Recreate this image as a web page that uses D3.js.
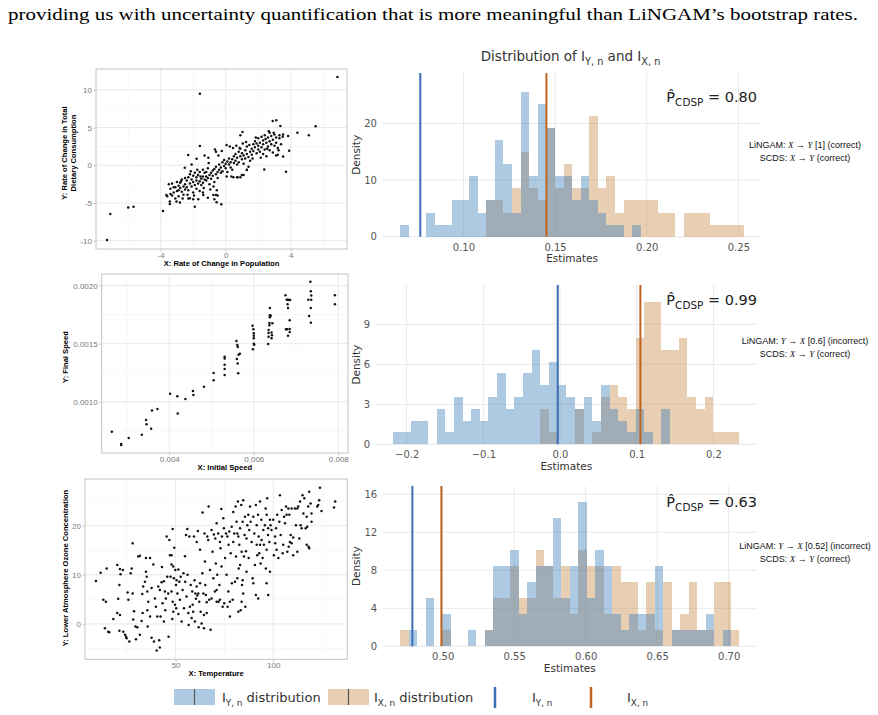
<!DOCTYPE html>
<html>
<head>
<meta charset="utf-8">
<script src="https://cdn.jsdelivr.net/npm/d3@7"></script>
<style>
  body { margin: 0; background: #fff; }
  svg { display: block; }
</style>
</head>
<body>
<div id="fig"></div>
<script>
// ---------------- data ----------------
const introLine = 'providing us with uncertainty quantification that is more meaningful than LiNGAM\u2019s bootstrap rates.';

// scatter 1: population vs dietary consumption
const dietPoints = [
  [6.87,11.7],[-1.59,9.5],[-7.3,-9.9],[-7.1,-6.45],[-6.0,-5.6],[-5.67,-5.5],[-3.86,-6.05],[-1.9,-5.5],[-0.27,-5.15],[-0.56,-4.9],
  [5.53,5.17],[5.11,3.97],[4.41,4.33],[3.9,1.94],[3.71,-0.84],[2.37,-0.57],[2.89,5.87],[3.11,5.96],[3.36,5.21],[1.03,4.42],
  [-2.31,1.37],[-1.59,2.56],[-1.79,0.88],[-2.52,-0.31],[-1.07,1.0],[-0.66,2.1],[-3.65,-3.93],[-3.44,-5.12],[-3.44,-4.81],[-3.03,-4.81],
  [-2.82,-4.94],[-2.21,-4.37],[-2.0,-4.5],[-1.69,-4.5],[-1.38,-3.93],[-0.76,-3.93],[-0.6,-3.93],[0.06,-1.5],[0.47,-1.59],[0.72,-1.59],
  [0.99,-1.28],[1.3,-0.62],[3.53,1.15],[3.84,3.89],[3.53,4.1],
  [-3.5,-2.5],[-3.4,-3.1],[-3.3,-2.4],[-3.2,-3.6],[-3.1,-2.9],[-3.0,-2.2],[-3.0,-3.4],[-2.9,-2.7],[-2.9,-4.1],[-2.8,-3.0],
  [-2.8,-2.3],[-2.7,-3.5],[-2.7,-1.9],[-2.6,-2.8],[-2.6,-3.9],[-2.5,-2.5],[-2.5,-1.7],[-2.5,-3.2],[-3.6,-4.1],[-3.4,-3.8],
  [-3.2,-2.9],[-3.1,-4.4],[-2.9,-3.3],[-2.75,-2.1],[-2.65,-4.4],
  [-2.4,-2.0],[-2.4,-2.9],[-2.3,-1.6],[-2.3,-3.3],[-2.2,-2.4],[-2.2,-1.2],[-2.1,-2.8],[-2.1,-1.9],[-2.0,-3.6],[-2.0,-2.2],
  [-2.0,-1.4],[-1.9,-2.6],[-1.9,-1.0],[-1.8,-2.0],[-1.8,-3.1],[-1.8,-1.6],[-1.7,-2.4],[-1.7,-1.3],[-1.6,-2.1],[-1.6,-3.4],
  [-1.6,-0.9],[-1.5,-1.8],[-1.5,-2.6],[-2.35,-3.9],[-2.15,-0.8],[-1.95,-4.0],[-1.75,-0.6],[-1.55,-1.5],
  [-1.4,-1.5],[-1.4,-2.3],[-1.4,-0.6],[-1.3,-1.9],[-1.3,-1.0],[-1.2,-2.0],[-1.2,-0.9],[-1.2,-1.5],[-1.1,-1.7],[-1.1,-0.4],
  [-1.0,-1.3],[-1.0,-2.5],[-0.9,-1.0],[-0.9,-1.8],[-0.8,-0.7],[-0.8,-1.4],[-0.7,-2.2],[-0.7,-0.5],[-0.6,-1.2],[-0.6,-0.2],
  [-0.5,-0.9],[-0.5,-1.7],[-1.35,-3.0],[-0.95,-3.2],[-0.75,-2.8],[-0.55,-3.3],[-1.05,0.3],
  [-0.4,-0.6],[-0.4,0.1],[-0.3,-1.0],[-0.3,-0.3],[-0.2,0.4],[-0.2,-0.8],[-0.1,-0.1],[-0.1,0.7],[0.0,-0.4],[0.0,0.2],
  [0.1,0.5],[0.1,-0.9],[0.2,0.1],[0.2,0.9],[0.3,-0.3],[0.3,0.4],[0.4,0.8],[0.4,-0.6],[0.5,0.3],[0.5,1.2],
  [-0.45,1.3],[-0.25,1.9],[0.05,2.7],[0.25,2.5],[0.45,2.3],[0.35,-1.5],
  [0.6,0.6],[0.6,1.5],[0.7,0.1],[0.7,1.0],[0.8,1.8],[0.8,0.4],[0.9,1.2],[0.9,2.2],[1.0,0.8],[1.0,1.6],
  [1.1,0.2],[1.1,1.3],[1.2,2.0],[1.2,0.9],[1.3,1.5],[1.3,2.5],[1.4,1.1],[1.4,-0.2],[1.5,1.8],[1.5,0.6],
  [0.65,2.6],[0.85,2.3],[1.05,2.9],[1.25,3.1],[1.45,2.7],
  [1.6,2.2],[1.6,1.4],[1.7,2.8],[1.7,1.9],[1.8,3.2],[1.8,2.4],[1.9,1.6],[1.9,2.9],[2.0,2.1],[2.0,3.6],
  [2.0,2.6],[2.1,1.8],[2.1,3.0],[2.2,2.4],[2.2,3.8],[2.3,1.5],[2.3,2.8],[2.3,3.3],[2.4,2.1],[2.4,4.0],
  [2.5,3.0],[2.5,1.2],[1.65,0.9],[1.85,3.7],[2.15,1.0],[2.45,3.5],
  [2.6,2.5],[2.6,3.7],[2.7,2.0],[2.7,3.2],[2.7,4.3],[2.8,2.8],[2.8,3.9],[2.9,1.7],[2.9,3.4],[3.0,2.6],
  [3.0,4.1],[3.1,3.0],[3.1,3.7],[3.2,1.4],[3.2,2.3],[3.3,3.6],[3.3,4.0],[3.4,2.8],[3.5,3.8],[3.1,1.3],
  [2.65,4.5],[2.95,4.3],[3.25,2.0],[2.55,2.2],
  [-3.3,-4.0],[-2.3,-4.4],[-1.1,-4.3],[-0.5,-4.0],[-0.7,-4.5],[-1.4,-3.6],[0.7,-1.6],[0.9,-1.6],[1.1,-1.3],[1.3,-0.6],
  [-2.1,0.1],[-1.3,1.3],[-0.6,1.8],[0.9,4.0]
];

// scatter 2: initial speed vs final speed
const speedPoints = [
  [0.00264,0.000741],[0.00286,0.000635],[0.00286,0.000626],[0.00304,0.000687],[0.00335,0.000716],[0.00345,0.000842],
  [0.00346,0.000805],[0.00357,0.000767],[0.00359,0.000925],[0.00372,0.000937],[0.00402,0.001069],[0.00419,0.001046],
  [0.00420,0.000899],[0.00438,0.001023],[0.00456,0.001092],[0.00457,0.001057],[0.00482,0.001129],[0.00505,0.001247],
  [0.00505,0.001184],[0.00531,0.001388],[0.00531,0.001371],[0.00531,0.001319],[0.00531,0.001282],[0.00531,0.001230],
  [0.00559,0.001523],[0.00561,0.001489],[0.00562,0.001471],[0.00564,0.001405],[0.00560,0.001368],[0.00562,0.001330],
  [0.00563,0.001244],[0.00567,0.001414],[0.00597,0.001655],[0.00599,0.001624],[0.00600,0.001589],[0.00600,0.001569],
  [0.00600,0.001546],[0.00600,0.001500],[0.00601,0.001491],[0.00598,0.001451],[0.00634,0.001497],[0.00635,0.001560],
  [0.00635,0.001592],[0.00635,0.001618],[0.00637,0.001658],[0.00637,0.001678],[0.00638,0.001727],[0.00638,0.001744],
  [0.00638,0.001807],[0.00640,0.001741],[0.00642,0.001595],[0.00643,0.001572],[0.00642,0.001546],[0.00644,0.001675],
  [0.00675,0.001917],[0.00678,0.001879],[0.00681,0.001879],[0.00682,0.001876],[0.00686,0.001876],[0.00680,0.001839],
  [0.00681,0.001807],[0.00676,0.001624],[0.00679,0.001624],[0.00681,0.001569],[0.00685,0.001601],[0.00685,0.001626],
  [0.00685,0.001701],[0.00729,0.001879],[0.00734,0.002034],[0.00735,0.001951],[0.00736,0.001914],[0.00736,0.001879],
  [0.00735,0.001807],[0.00731,0.001739],[0.00735,0.001681],[0.00792,0.001917],[0.00792,0.001839]
];

// scatter 3: temperature vs ozone
const ozonePoints = [
  [9.2,8.75],[11.6,10.4],[14.7,11.3],[13.0,4.9],[14.3,4.5],[13.8,-0.9],[15.5,-1.6],[16.0,-1.7],[18.1,1.0],[20.1,12.0],
  [21.5,11.2],[21.8,10.1],[21.2,7.9],[20.6,5.1],[20.1,2.2],[21.5,1.8],[21.2,-1.4],[23.0,11.0],[23.2,-1.6],[24.1,-2.2],
  [24.6,-2.6],[24.9,-2.9],[25.4,6.4],[25.8,4.9],[26.3,-3.6],[27.0,10.3],[27.5,11.3],[28.0,16.4],[28.0,6.2],[28.3,0.9],
  [28.7,2.6],[29.4,-0.5],[29.7,-3.1],[30.4,-0.7],[30.9,13.7],[31.7,13.9],[31.7,-2.2],[32.6,0.6],[32.9,6.1],[33.1,2.2],
  [33.4,7.6],[34.3,8.6],[34.8,13.4],[34.8,10.6],[35.2,9.6],[35.5,6.6],[36.0,4.5],[35.5,2.8],[35.7,-0.5],[36.9,13.4],
  [36.9,1.5],[37.7,7.3],[37.7,-2.8],[38.6,12.1],[38.9,-3.6],[39.4,5.2],[39.9,3.5],[40.3,-5.4],[40.6,1.5],[41.1,7.6],
  [41.6,-3.3],[41.9,-4.8],[41.9,6.9],[42.3,1.5],[42.8,8.5],[43.0,11.6],[43.3,4.2],[44.0,8.7],[44.0,0.5],[44.5,6.6],
  [44.7,2.8],[45.0,5.2],[45.4,17.8],[45.7,9.6],[46.2,6.2],[46.4,-2.6],[46.8,17.1],[47.1,14.0],[47.4,9.6],[47.9,12.1],
  [47.9,14.0],[47.9,6.6],[48.3,1.0],[48.5,19.3],[48.5,4.5],[48.8,11.7],[48.8,2.5],[49.1,9.3],[49.3,15.5],[49.7,3.9],
  [49.8,11.0],[50.2,7.9],[50.3,3.2],[50.5,8.9],[50.9,6.2],[51.4,11.1],[51.4,2.0],[51.9,8.6],[52.2,4.9],[52.6,9.6],
  [53.1,0.5],[53.6,6.9],[54.0,10.3],[54.3,3.2],[54.8,13.8],[54.9,8.6],[55.3,18.1],[55.6,5.6],[56.0,19.3],[56.1,10.0],
  [56.5,2.2],[56.7,-0.2],[57.0,17.8],[57.3,3.5],[57.7,7.9],[58.2,1.2],[58.5,6.6],[58.7,3.9],[59.0,2.5],[59.4,17.8],
  [59.7,8.9],[59.9,0.5],[60.1,6.2],[60.4,5.1],[60.8,16.7],[60.8,7.6],[61.1,5.8],[61.4,18.9],[61.6,6.2],[61.8,-0.7],
  [62.1,4.5],[62.5,15.1],[62.5,8.3],[62.8,2.5],[63.3,0.1],[63.7,10.3],[63.8,22.7],[64.2,6.2],[64.5,-0.9],[64.5,1.8],
  [64.8,18.4],[65.0,12.7],[65.2,7.9],[65.5,5.9],[65.9,4.4],[65.9,2.2],[66.2,17.8],[66.7,17.1],[66.9,23.9],[67.2,4.9],
  [67.6,11.0],[67.9,-1.2],[68.4,19.1],[68.4,5.2],[68.9,14.7],[69.3,9.3],[69.6,18.2],[70.1,6.6],[70.3,17.4],[70.6,12.3],
  [71.0,4.5],[71.0,20.5],[71.3,10.0],[71.8,18.4],[72.0,4.5],[72.4,7.9],[72.7,16.7],[73.0,15.4],[73.4,23.4],[73.5,11.7],
  [73.7,17.8],[74.1,3.5],[74.4,21.5],[74.7,19.5],[74.9,4.2],[75.3,13.4],[75.8,18.4],[76.1,10.0],[76.5,17.8],[76.6,3.5],
  [77.0,6.6],[77.1,16.1],[77.5,18.8],[77.8,4.5],[78.2,14.4],[78.7,19.8],[78.8,8.3],[79.2,4.9],[79.5,16.7],[79.5,22.8],
  [80.0,18.4],[80.4,8.6],[80.7,23.9],[80.9,13.7],[81.2,20.8],[81.6,18.4],[81.6,9.3],[81.9,24.9],[82.1,17.8],[82.3,11.3],
  [82.6,16.1],[83.0,19.5],[83.0,12.0],[83.3,2.8],[83.6,24.2],[83.8,14.7],[84.0,7.9],[84.3,8.9],[84.3,20.8],[84.6,6.2],
  [84.6,25.2],[85.0,13.7],[85.3,18.1],[85.5,21.8],[85.7,3.5],[86.0,14.8],[86.3,17.4],[86.3,10.6],[86.7,20.1],[87.2,22.2],
  [87.4,13.4],[87.7,19.1],[88.1,23.9],[88.4,20.8],[88.9,16.7],[89.4,9.3],[89.8,21.8],[90.3,18.4],[90.6,12.0],[91.1,24.2],
  [91.5,20.1],[91.5,16.1],[91.8,14.0],[92.2,22.2],[92.3,5.2],[92.5,17.8],[92.8,14.4],[93.2,24.9],[93.2,16.1],[93.5,12.3],
  [93.9,21.2],[94.0,17.1],[94.5,13.4],[94.9,19.1],[95.2,16.1],[95.7,20.1],[96.1,23.5],[96.2,11.3],[96.6,22.2],[96.6,15.1],
  [96.9,25.6],[97.3,18.1],[97.4,5.9],[97.4,19.5],[98.0,16.7],[98.3,21.2],[98.3,10.6],[98.6,20.1],[99.1,19.1],[100.0,21.2],
  [100.3,14.0],[100.9,17.8],[101.0,16.4],[101.4,19.5],[101.7,15.1],[102.0,22.2],[102.6,13.4],[103.1,20.8],[103.4,26.2],[103.8,18.1],
  [104.3,23.2],[104.8,14.4],[105.1,16.1],[105.5,21.8],[106.0,20.5],[106.5,23.9],[106.8,22.2],[107.2,14.7],[107.7,23.5],[107.9,15.7],
  [108.2,22.2],[108.5,16.7],[108.9,18.1],[109.4,23.5],[110.2,17.6],[111.1,23.5],[111.6,20.1],[112.3,23.5],[112.8,23.9],[113.3,17.4],
  [113.7,24.9],[114.0,20.1],[114.5,19.5],[115.0,26.2],[115.4,22.5],[115.9,25.6],[116.6,19.5],[117.1,16.1],[117.1,21.8],[117.4,19.8],
  [117.9,23.9],[118.1,15.7],[118.4,26.9],[118.4,15.4],[119.1,24.5],[119.6,22.5],[122.5,23.9],[123.0,24.2],[123.9,27.7],[123.5,25.2],
  [124.7,23.0],[131.1,23.7],[131.7,24.9],[119.6,20.8],[110.2,14.0],[112.3,14.7],[109.4,16.4],[96.6,8.3],[89.8,8.3],[91.1,5.9],
  [83.8,4.5],[82.1,2.5],[77.8,1.5],[72.7,4.9],[71.0,6.9]
];

// histogram counts per bin (40 common bins, 100 draws each)
const hist1Y = [1,0,0,2,1,1,3,3,5,2,3,8,6,2,12,5,11,9,5,5,3,5,3,2,1,1,0,1,0,0,0,0,0,0,0,0,0,0,0,0];
const hist1X = [0,0,0,0,0,0,0,0,0,0,3,3,2,4,7,4,3,9,4,6,4,4,10,4,5,2,3,3,3,3,2,2,0,2,2,2,1,1,1,1];
const hist2Y = [1,1,2,2,0,3,1,4,2,3,2,4,6,3,4,6,8,5,7,5,4,3,4,2,5,3,2,1,3,1,0,3,0,0,0,0,0,0,0,0];
const hist2X = [0,0,0,0,0,0,0,0,0,0,0,0,0,0,0,0,0,3,1,0,0,3,0,1,4,5,4,3,9,12,12,8,8,9,4,3,4,1,1,1];
const hist3Y = [0,1,0,3,0,2,0,0,1,0,1,5,5,6,2,4,5,5,8,3,5,9,3,6,5,2,1,2,2,2,5,0,1,1,1,1,2,0,1,0];
const hist3X = [1,0,0,0,0,1,0,0,0,0,1,3,3,5,3,3,6,5,3,5,2,6,5,5,2,5,4,4,1,4,1,4,1,2,4,1,1,4,4,1];
const binStarts = [0.0655, -0.2174, 0.4702];
const binWidths = [0.00469, 0.01128, 0.005934];
const drawCount = 100;

// observed statistics (vertical lines): [I_Y,n, I_X,n]
const observedStats = [[0.0765, 0.1453], [-0.003, 0.1048], [0.4788, 0.4991]];
const pValues = ['0.80', '0.99', '0.63'];
const lingamNotes = [
  ['X', 'Y', ' [1] (correct)'],
  ['Y', 'X', ' [0.6] (incorrect)'],
  ['Y', 'X', ' [0.52] (incorrect)']
];
const histXTicks = [[0.10, 0.15, 0.20, 0.25], [-0.2, -0.1, 0.0, 0.1, 0.2], [0.50, 0.55, 0.60, 0.65, 0.70]];
const histYTicks = [[0, 10, 20], [0, 3, 6, 9], [0, 4, 8, 12, 16]];

// ---------------- drawing ----------------
const W = 878, H = 715;
const svg = d3.select('#fig').append('svg').attr('width', W).attr('height', H);

const BLUE_FILL = '#3e81b9', ORANGE_FILL = '#c98b49';
const BLUE_LINE = '#3a6db5', ORANGE_LINE = '#c0631f';
const SANS = 'DejaVu Sans, sans-serif';
const ARIAL = 'Liberation Sans, Arial, sans-serif';

// text with subscript / italic pieces: parts = [[text, kind]]
function richText(g, x, y, parts, size, anchor, subScale) {
    const t = g.append('text').attr('x', x).attr('y', y)
        .attr('text-anchor', anchor || 'start').style('font-size', size + 'px');
    let shift = 0;
    parts.forEach(([txt, kind]) => {
        const s = t.append('tspan').text(txt);
        const target = kind === 'sub' ? size * 0.28 : 0;
        if (target !== shift) { s.attr('dy', target - shift); shift = target; }
        if (kind === 'sub') s.style('font-size', (size * (subScale || 0.72)) + 'px');
        if (kind === 'it') s.style('font-style', 'italic').style('font-family', 'Liberation Serif, serif');
    });
    return t;
}

// intro sentence
svg.append('text')
    .attr('x', 8).attr('y', 20)
    .attr('textLength', 850).attr('lengthAdjust', 'spacingAndGlyphs')
    .style('font-family', 'Liberation Serif, serif').style('font-size', '17px')
    .text(introLine);

class ScatterPanel {
    constructor(_config, _data) {
        this.config = _config;
        this.data = _data;
        this.initVis();
    }

    initVis() {
        let vis = this;
        const c = vis.config;
        vis.width = c.right - c.left;
        vis.height = c.bottom - c.top;
        vis.g = svg.append('g').attr('transform', `translate(${c.left},${c.top})`);
        vis.xScale = d3.scaleLinear().domain(c.xDomain).range([0, vis.width]);
        vis.yScale = d3.scaleLinear().domain(c.yDomain).range([vis.height, 0]);
        vis.renderVis();
    }

    renderVis() {
        let vis = this;
        const c = vis.config;

        // minor + major grid
        vis.g.selectAll('.xminor').data(c.xMinor).join('line')
            .attr('x1', d => vis.xScale(d)).attr('x2', d => vis.xScale(d))
            .attr('y1', 0).attr('y2', vis.height)
            .attr('stroke', '#f3f3f3').attr('stroke-width', 0.6);
        vis.g.selectAll('.yminor').data(c.yMinor).join('line')
            .attr('y1', d => vis.yScale(d)).attr('y2', d => vis.yScale(d))
            .attr('x1', 0).attr('x2', vis.width)
            .attr('stroke', '#f3f3f3').attr('stroke-width', 0.6);
        vis.g.selectAll('.xmajor').data(c.xTicks).join('line')
            .attr('x1', d => vis.xScale(d)).attr('x2', d => vis.xScale(d))
            .attr('y1', 0).attr('y2', vis.height)
            .attr('stroke', '#e6e6e6').attr('stroke-width', 0.9);
        vis.g.selectAll('.ymajor').data(c.yTicks).join('line')
            .attr('y1', d => vis.yScale(d)).attr('y2', d => vis.yScale(d))
            .attr('x1', 0).attr('x2', vis.width)
            .attr('stroke', '#e6e6e6').attr('stroke-width', 0.9);

        vis.g.selectAll('.dot').data(vis.data).join('circle')
            .attr('class', 'dot')
            .attr('r', 1.25)
            .attr('cx', d => vis.xScale(d[0]))
            .attr('cy', d => vis.yScale(d[1]))
            .attr('fill', '#111');

        vis.g.append('rect')
            .attr('width', vis.width).attr('height', vis.height)
            .attr('fill', 'none').attr('stroke', '#c4c4c4').attr('stroke-width', 1);

        const xAxis = d3.axisBottom(vis.xScale).tickValues(c.xTicks)
            .tickSize(2.5).tickPadding(1).tickFormat(c.xFormat);
        const yAxis = d3.axisLeft(vis.yScale).tickValues(c.yTicks)
            .tickSize(2.5).tickPadding(1.5).tickFormat(c.yFormat);
        const xg = vis.g.append('g').attr('transform', `translate(0,${vis.height})`).call(xAxis);
        const yg = vis.g.append('g').call(yAxis);
        [xg, yg].forEach(a => {
            a.select('.domain').remove();
            a.selectAll('line').attr('stroke', '#c4c4c4');
            a.selectAll('text').attr('fill', '#7a7a7a')
                .style('font-family', ARIAL).style('font-size', '8px');
        });

        vis.g.append('text')
            .attr('x', vis.width / 2).attr('y', vis.height + c.xTitleGap)
            .attr('text-anchor', 'middle')
            .style('font-family', ARIAL).style('font-size', '7.6px').style('font-weight', 'bold')
            .text(c.xTitle);

        const yt = vis.g.append('text')
            .attr('transform', `translate(${c.yTitleX - c.left},${c.yTitleY - c.top}) rotate(-90)`)
            .attr('text-anchor', 'middle')
            .style('font-family', ARIAL).style('font-size', '7.6px').style('font-weight', 'bold');
        c.yTitle.forEach((line, i) => {
            yt.append('tspan').attr('x', 0).attr('dy', i === 0 ? 0 : 8.6).text(line);
        });
    }
}

class HistPanel {
    constructor(_config, _yCounts, _xCounts) {
        this.config = _config;
        this.yCounts = _yCounts;
        this.xCounts = _xCounts;
        this.initVis();
    }

    initVis() {
        let vis = this;
        const c = vis.config;
        vis.g = svg.append('g');
        vis.xScale = d3.scaleLinear().domain(c.xDomain).range([c.left, c.right]);
        vis.yScale = d3.scaleLinear().domain([0, c.yMax]).range([c.bottom, c.top]);
        vis.updateVis();
    }

    updateVis() {
        let vis = this;
        const c = vis.config;
        const toBars = counts => counts.map((n, k) => ({
            x0: c.binStart + k * c.binWidth,
            x1: c.binStart + (k + 1) * c.binWidth,
            dens: n / (drawCount * c.binWidth)
        })).filter(d => d.dens > 0);
        vis.barsY = toBars(vis.yCounts);
        vis.barsX = toBars(vis.xCounts);
        vis.renderVis();
    }

    renderVis() {
        let vis = this;
        const c = vis.config;

        // grid
        vis.g.selectAll('.gx').data(c.xTicks).join('line')
            .attr('x1', d => vis.xScale(d)).attr('x2', d => vis.xScale(d))
            .attr('y1', c.top).attr('y2', c.bottom)
            .attr('stroke', '#e8e8e8').attr('stroke-width', 1);
        vis.g.selectAll('.gy').data(c.yTicks).join('line')
            .attr('y1', d => vis.yScale(d)).attr('y2', d => vis.yScale(d))
            .attr('x1', c.left).attr('x2', c.right)
            .attr('stroke', '#e8e8e8').attr('stroke-width', 1);

        const drawBars = (bars, color, op) => vis.g.append('g').selectAll('rect').data(bars).join('rect')
            .attr('x', d => vis.xScale(d.x0))
            .attr('width', d => vis.xScale(d.x1) - vis.xScale(d.x0))
            .attr('y', d => vis.yScale(d.dens))
            .attr('height', d => vis.yScale(0) - vis.yScale(d.dens))
            .attr('fill', color).attr('fill-opacity', op)
            .attr('shape-rendering', 'crispEdges');
        drawBars(vis.barsX, ORANGE_FILL, 0.42);
        drawBars(vis.barsY, BLUE_FILL, 0.42);

        // observed statistics
        vis.g.selectAll('.obs').data(c.observed).join('line')
            .attr('x1', d => vis.xScale(d)).attr('x2', d => vis.xScale(d))
            .attr('y1', c.top).attr('y2', c.bottom)
            .attr('stroke', (d, i) => i === 0 ? BLUE_LINE : ORANGE_LINE)
            .attr('stroke-width', 2);

        const xAxis = d3.axisBottom(vis.xScale).tickValues(c.xTicks)
            .tickSize(0).tickPadding(7).tickFormat(d3.format(c.xFmt));
        const yAxis = d3.axisLeft(vis.yScale).tickValues(c.yTicks)
            .tickSize(0).tickPadding(6).tickFormat(d3.format('d'));
        const xg = vis.g.append('g').attr('transform', `translate(0,${c.bottom})`).call(xAxis);
        const yg = vis.g.append('g').attr('transform', `translate(${c.left},0)`).call(yAxis);
        [xg, yg].forEach(a => {
            a.select('.domain').remove();
            a.selectAll('text').attr('fill', '#555')
                .style('font-family', SANS).style('font-size', '10px');
        });

        vis.g.append('text')
            .attr('x', (c.left + c.right) / 2).attr('y', c.bottom + 25.5)
            .attr('text-anchor', 'middle').attr('fill', '#333')
            .style('font-family', SANS).style('font-size', '10.5px')
            .text('Estimates');
        vis.g.append('text')
            .attr('transform', `translate(360,${(c.top + c.bottom) / 2}) rotate(-90)`)
            .attr('text-anchor', 'middle').attr('fill', '#333')
            .style('font-family', SANS).style('font-size', '10.5px')
            .text('Density');

        // P_CDSP annotation
        const p = richText(vis.g, 757, c.pY, [['P\u0302', null], ['CDSP', 'sub'], [' = ' + c.pValue, null]], 14.5, 'end');
        p.style('font-family', SANS).attr('fill', '#222');

        // LiNGAM / SCDS note
        const [a, b, tail] = c.note;
        const n1 = richText(vis.g, 805, c.noteY, [['LiNGAM: ', null], [a, 'it'], [' \u2192 ', null], [b, 'it'], [tail, null]], 9, 'middle');
        const n2 = richText(vis.g, 805, c.noteY + 12.5, [['SCDS: ', null], ['X', 'it'], [' \u2192 ', null], ['Y', 'it'], [' (correct)', null]], 9, 'middle');
        [n1, n2].forEach(t => t.style('font-family', ARIAL).attr('fill', '#111'));
    }
}

// scatter panels
new ScatterPanel({
    left: 96, top: 69, right: 347, bottom: 249,
    xDomain: [-7.98, 7.46], yDomain: [-11.1, 12.77],
    xTicks: [-4, 0, 4], xMinor: [-6, -2, 2, 6],
    yTicks: [-10, -5, 0, 5, 10], yMinor: [-7.5, -2.5, 2.5, 7.5],
    xFormat: d => String(d), yFormat: d => String(d),
    xTitle: 'X: Rate of Change in Population', xTitleGap: 17,
    yTitle: ['Y: Rate of Change in Total', 'Dietary Consumption'], yTitleX: 67, yTitleY: 153
}, dietPoints);

new ScatterPanel({
    left: 101.7, top: 274, right: 348, bottom: 453,
    xDomain: [0.0024, 0.00823], yDomain: [0.000558, 0.0021],
    xTicks: [0.004, 0.006, 0.008], xMinor: [0.003, 0.005, 0.007],
    yTicks: [0.0010, 0.0015, 0.0020], yMinor: [0.00075, 0.00125, 0.00175],
    xFormat: d3.format('.3f'), yFormat: d3.format('.4f'),
    xTitle: 'X: Initial Speed', xTitleGap: 17,
    yTitle: ['Y: Final Speed'], yTitleX: 68, yTitleY: 357
}, speedPoints);

new ScatterPanel({
    left: 85, top: 479, right: 347.3, bottom: 659.3,
    xDomain: [3.6, 137.9], yDomain: [-7.2, 29.5],
    xTicks: [50, 100], xMinor: [25, 75, 125],
    yTicks: [0, 10, 20], yMinor: [-5, 5, 15, 25],
    xFormat: d => String(d), yFormat: d => String(d),
    xTitle: 'X: Temperature', xTitleGap: 17,
    yTitle: ['Y: Lower Atmosphere Ozone Concentration'], yTitleX: 68, yTitleY: 568
}, ozonePoints);

// histogram panels
const histGeom = [
    { left: 382.9, right: 761.3, top: 73, bottom: 236.7, xDomain: [0.0561, 0.2625], yMax: 28.9, xFmt: '.2f', pY: 102, noteY: 148 },
    { left: 376, right: 756.7, top: 285, bottom: 444.3, xDomain: [-0.240, 0.2565], yMax: 11.95, xFmt: '.1f', pY: 304.5, noteY: 344 },
    { left: 383.2, right: 756.4, top: 486, bottom: 646.3, xDomain: [0.4584, 0.7194], yMax: 16.87, xFmt: '.2f', pY: 506.5, noteY: 549 }
];
const histCounts = [[hist1Y, hist1X], [hist2Y, hist2X], [hist3Y, hist3X]];
histGeom.forEach((geo, i) => {
    new HistPanel(Object.assign({}, geo, {
        binStart: binStarts[i], binWidth: binWidths[i],
        xTicks: histXTicks[i], yTicks: histYTicks[i],
        observed: observedStats[i], pValue: pValues[i], note: lingamNotes[i]
    }), histCounts[i][0], histCounts[i][1]);
});

// title over histograms
richText(svg, 570.5, 61, [['Distribution of I', null], ['Y, n', 'sub'], [' and I', null], ['X, n', 'sub']], 13.5, 'middle')
    .style('font-family', SANS).attr('fill', '#333');

// legend
const legend = svg.append('g');
const legendItems = [
    { kind: 'patch', x: 174, color: BLUE_FILL, label: [['I', null], ['Y, n', 'sub'], [' distribution', null]], tx: 222 },
    { kind: 'patch', x: 328, color: ORANGE_FILL, label: [['I', null], ['X, n', 'sub'], [' distribution', null]], tx: 374 },
    { kind: 'line', x: 495, color: BLUE_LINE, label: [['I', null], ['Y, n', 'sub']], tx: 532 },
    { kind: 'line', x: 591, color: ORANGE_LINE, label: [['I', null], ['X, n', 'sub']], tx: 627 }
];
legendItems.forEach(it => {
    if (it.kind === 'patch') {
        legend.append('rect').attr('x', it.x).attr('y', 689).attr('width', 41).attr('height', 16)
            .attr('fill', it.color).attr('fill-opacity', 0.42);
        legend.append('line').attr('x1', it.x + 20.5).attr('x2', it.x + 20.5).attr('y1', 689).attr('y2', 705)
            .attr('stroke', '#555').attr('stroke-width', 1.2);
    } else {
        legend.append('line').attr('x1', it.x).attr('x2', it.x).attr('y1', 687).attr('y2', 708)
            .attr('stroke', it.color).attr('stroke-width', 2.5);
    }
    richText(legend, it.tx, 702, it.label, 13, 'start', 0.68)
        .style('font-family', SANS).attr('fill', '#333');
});
</script>
</body>
</html>
